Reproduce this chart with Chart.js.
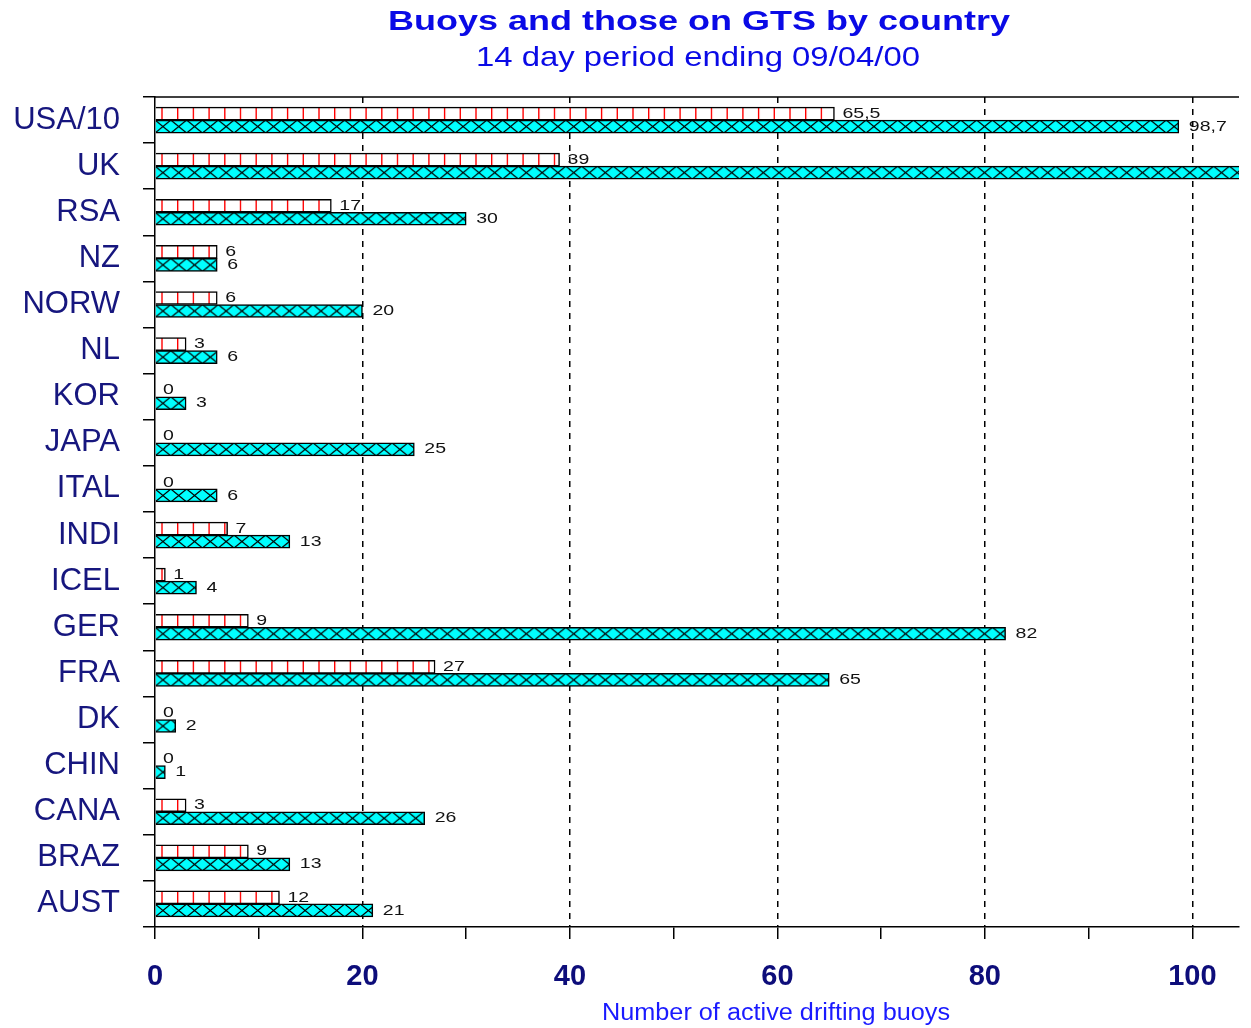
<!DOCTYPE html>
<html>
<head>
<meta charset="utf-8">
<title>Buoys and those on GTS by country</title>
<script src="https://cdn.jsdelivr.net/npm/chart.js@4/dist/chart.umd.min.js"></script>
<style>
  html, body { margin: 0; padding: 0; background: #fff; }
  #wrap { width: 1251px; height: 1028px; }
</style>
</head>
<body>
<div id="wrap"><canvas id="myChart" width="1251" height="1028"></canvas></div>
<script>
// Countries, top to bottom as in the picture
const countries = ['USA/10', 'UK', 'RSA', 'NZ', 'NORW', 'NL', 'KOR', 'JAPA', 'ITAL',
    'INDI', 'ICEL', 'GER', 'FRA', 'DK', 'CHIN', 'CANA', 'BRAZ', 'AUST'];
// Buoys reported on GTS
const onGts = [65.5, 39, 17, 6, 6, 3, 0, 0, 0, 7, 1, 9, 27, 0, 0, 3, 9, 12];
// All active drifting buoys (UK runs past the right edge)
const allBuoys = [98.7, 105, 30, 6, 20, 6, 3, 25, 6, 13, 4, 82, 65, 2, 1, 26, 13, 21];
// Labelled x ticks
const xTickLabels = [0, 20, 40, 60, 80, 100];

const FONT = "'Liberation Sans', Arial, sans-serif";
const BAR = 13;
const X_MAX = 104.5;

const ctx = document.getElementById('myChart').getContext('2d');

// pattern tiles
function redTile() {
    const c = document.createElement('canvas');
    c.width = 157; c.height = BAR;
    const g = c.getContext('2d');
    g.fillStyle = '#fff';
    g.fillRect(0, 0, c.width, c.height);
    g.strokeStyle = '#ff0000';
    g.lineWidth = 1.4;
    for (let i = 0; i < 10; i++) {
        const x = i * 15.7 + 7;
        g.beginPath(); g.moveTo(x, 0); g.lineTo(x, BAR); g.stroke();
    }
    return c;
}
function cyanTile() {
    const c = document.createElement('canvas');
    c.width = 158; c.height = BAR;
    const g = c.getContext('2d');
    g.fillStyle = '#00ffff';
    g.fillRect(0, 0, c.width, c.height);
    g.strokeStyle = '#000';
    g.lineWidth = 1.2;
    for (let i = 0; i < 10; i++) {
        const x = i * 15.8;
        g.beginPath();
        g.moveTo(x, 0); g.lineTo(x + 15.8, BAR);
        g.moveTo(x + 15.8, 0); g.lineTo(x, BAR);
        g.stroke();
    }
    return c;
}
const tiles = [redTile(), cyanTile()];

// pattern anchored to each bar's top edge
function barPattern(c) {
    const chart = c.chart;
    const ys = chart.scales && chart.scales.y;
    if (!ys || c.dataIndex === undefined) return c.datasetIndex === 0 ? '#fff' : '#00ffff';
    const mid = ys.getPixelForValue(c.dataIndex);
    const top = c.datasetIndex === 0 ? mid - BAR : mid;
    const p = chart.ctx.createPattern(tiles[c.datasetIndex], 'repeat');
    p.setTransform(new DOMMatrix([1, 0, 0, 1, chart.chartArea ? chart.chartArea.left : 0, top]));
    return p;
}

const fmt = v => String(v).replace('.', ',');

// text stretched sideways to a given width (the original lettering is wide)
function wideText(g, text, x, y, width, align) {
    const w = g.measureText(text).width;
    g.save();
    g.translate(x, y);
    g.scale(width / w, 1);
    g.textAlign = align;
    g.fillText(text, 0, 0);
    g.restore();
}

// value labels next to the bar ends
const valueLabels = {
    id: 'valueLabels',
    afterDatasetsDraw(chart) {
        const g = chart.ctx;
        g.save();
        g.font = '15px ' + FONT;
        g.fillStyle = '#111';
        g.textBaseline = 'middle';
        chart.data.datasets.forEach((ds, di) => {
            const meta = chart.getDatasetMeta(di);
            meta.data.forEach((el, i) => {
                const v = ds.data[i];
                if (v > X_MAX) return;
                const t = fmt(v);
                wideText(g, t, el.x + (di === 0 ? 8 : 10), el.y, g.measureText(t).width * 1.3, 'left');
            });
        });
        g.restore();
    }
};

// titles, top frame line, axis caption
const decorations = {
    id: 'decorations',
    afterDraw(chart) {
        const g = chart.ctx;
        const a = chart.chartArea;
        const cx = (a.left + a.right) / 2;
        g.save();
        g.strokeStyle = '#000';
        g.lineWidth = 1.5;
        g.beginPath(); g.moveTo(a.left, a.top); g.lineTo(a.right, a.top); g.stroke();

        g.textBaseline = 'alphabetic';
        g.fillStyle = '#0a0ae6';
        g.font = 'bold 28px ' + FONT;
        wideText(g, 'Buoys and those on GTS by country', cx + 2, 30, 622, 'center');
        g.font = '28px ' + FONT;
        wideText(g, '14 day period ending 09/04/00', cx + 1, 66, 444, 'center');

        g.fillStyle = '#1a1aff';
        g.font = '23px ' + FONT;
        wideText(g, 'Number of active drifting buoys', a.left + 621, 1020, 348, 'center');
        g.restore();
    }
};

const data = {
    labels: countries,
    datasets: [{
        label: 'On GTS',
        data: onGts,
        backgroundColor: barPattern,
        borderColor: '#000',
        borderWidth: 1.5,
        barThickness: BAR
    },
    {
        label: 'Active buoys',
        data: allBuoys,
        backgroundColor: barPattern,
        borderColor: '#000',
        borderWidth: 1.5,
        barThickness: BAR
    }]
};

const config = {
    type: 'bar',
    data: data,
    plugins: [valueLabels, decorations],
    options: {
        indexAxis: 'y',
        responsive: false,
        animation: false,
        layout: { padding: { top: 97, right: 12, bottom: 0, left: 0 } },
        plugins: {
            legend: { display: false },
            tooltip: { enabled: false },
            title: { display: false }
        },
        scales: {
            x: {
                type: 'linear',
                min: 0,
                max: X_MAX,
                afterFit(scale) { scale.height = 101; },
                afterBuildTicks(scale) {
                    scale.ticks = [];
                    for (let v = 0; v <= 100; v += 10) scale.ticks.push({ value: v });
                },
                ticks: {
                    autoSkip: false,
                    maxRotation: 0,
                    padding: 21,
                    color: '#0d0d7a',
                    font: { family: FONT, size: 29, weight: 'bold' },
                    callback: v => xTickLabels.includes(v) ? String(v) : ''
                },
                grid: {
                    color: c => (c.tick && c.tick.value > 0 && c.tick.value % 20 === 0) ? '#000' : 'rgba(0,0,0,0)',
                    lineWidth: 1.5,
                    tickColor: '#000',
                    tickLength: 12,
                    tickBorderDash: []
                },
                border: { display: true, color: '#000', width: 1.5, dash: [6, 6] }
            },
            y: {
                afterFit(scale) { scale.width = 155; },
                ticks: {
                    padding: 23,
                    color: '#16167e',
                    font: { family: FONT, size: 31 }
                },
                grid: {
                    offset: true,
                    drawOnChartArea: false,
                    color: '#000',
                    tickLength: 12,
                    lineWidth: 1.5
                },
                border: { display: true, color: '#000', width: 1.5 }
            }
        }
    }
};

const myChart = new Chart(ctx, config);
</script>
</body>
</html>
